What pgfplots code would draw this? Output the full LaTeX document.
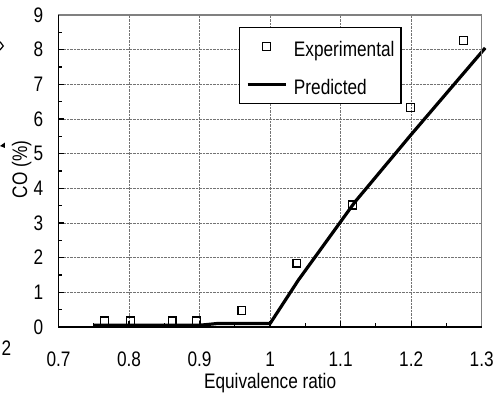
\documentclass[border=0pt]{standalone}
\usepackage{fontspec}
\setmainfont{Liberation Sans}[FakeStretch=0.82]
\usepackage{pgfplots}
\pgfplotsset{compat=1.18}

\pgfplotstableread{
phi   co
0.765 0.18
0.802 0.18
0.861 0.18
0.896 0.18
0.960 0.47
1.038 1.84
1.117 3.52
1.199 6.33
1.274 8.27
}\experimental

\pgfplotstableread{
phi   co
0.750 0.05
0.900 0.05
0.925 0.10
1.000 0.10
1.040 1.35
1.120 3.60
1.200 5.55
1.305 8.05
}\predicted

\newcommand{\bigfont}{\fontsize{21}{25}\selectfont}

\begin{document}
\begin{tikzpicture}
\useasboundingbox (-58.5pt,-69pt) rectangle (439.5pt,327pt);
\begin{axis}[
  scale only axis, width=423.2pt, height=312pt,
  xmin=0.7, xmax=1.3, ymin=0, ymax=9,
  xtick={0.7,0.8,0.9,1.0,1.1,1.2,1.3},
  ytick={0,1,2,3,4,5,6,7,8,9},
  minor x tick num=1, minor y tick num=1,
  tick pos=left, tick align=inside,
  major tick length=5.5pt, minor tick length=3.5pt,
  every tick/.style={black, line width=1.2pt},
  xmajorgrids, ymajorgrids,
  grid style={black!55, densely dotted, line width=0.9pt},
  axis line style={draw=none},
  clip=false,
  /pgf/number format/assume math mode=true,
  tick label style={font=\bigfont},
  xticklabel style={anchor=north, inner sep=0pt, yshift=-24.7pt},
  yticklabel style={anchor=east, inner sep=0pt, xshift=-15pt},
  xlabel={Equivalence ratio},
  ylabel={CO (\%)},
  xlabel style={at={(axis description cs:0.5,0)}, anchor=base, inner sep=0pt, yshift=-62pt, font=\bigfont},
  ylabel style={at={(axis description cs:-0.0744,0.505)}, anchor=base, inner sep=0pt, font=\bigfont},
  legend style={at={(axis description cs:0.4265,0.9625)}, anchor=north west,
    draw=black, line width=1.2pt, fill=white, font=\bigfont,
    inner xsep=6.5pt, inner ysep=5pt, row sep=9.5pt, column sep=6.7pt,
    nodes={inner sep=0pt, text height=24pt, text depth=4.5pt}},
  legend cell align=left,
  legend image code/.code={\draw[mark repeat=2,mark phase=2,#1] plot coordinates {(0pt,0pt) (19pt,0pt) (38pt,0pt)};},
]
\addplot[only marks, mark=square, mark size=3.9pt, mark options={black, solid, line width=1.3pt}] table[x=phi, y=co] {\experimental};
\addlegendentry{Experimental}
\addplot[black, line width=3.2pt, no marks, line join=round] table[x=phi, y=co] {\predicted};
\addlegendentry{Predicted}
% frame: grey top/right, black left/bottom
\draw[black!50, line width=1.6pt] (rel axis cs:0,1) -- (rel axis cs:1,1) -- (rel axis cs:1,0);
\draw[black, line width=1.6pt] (rel axis cs:0,1) -- (rel axis cs:0,0) -- (rel axis cs:1,0);
\end{axis}
% pieces of the neighbouring panel at the left edge
\node[anchor=base west, inner sep=0pt, font=\bigfont] at (-57pt,-29pt) {2};
\draw[line width=1.2pt] (-58.5pt,285.3pt) -- (-55.2pt,281pt) -- (-58.5pt,277pt);
\fill (-58.5pt,181pt) -- (-53.5pt,184.5pt) -- (-53.5pt,179pt) -- cycle;
\end{tikzpicture}
\end{document}
